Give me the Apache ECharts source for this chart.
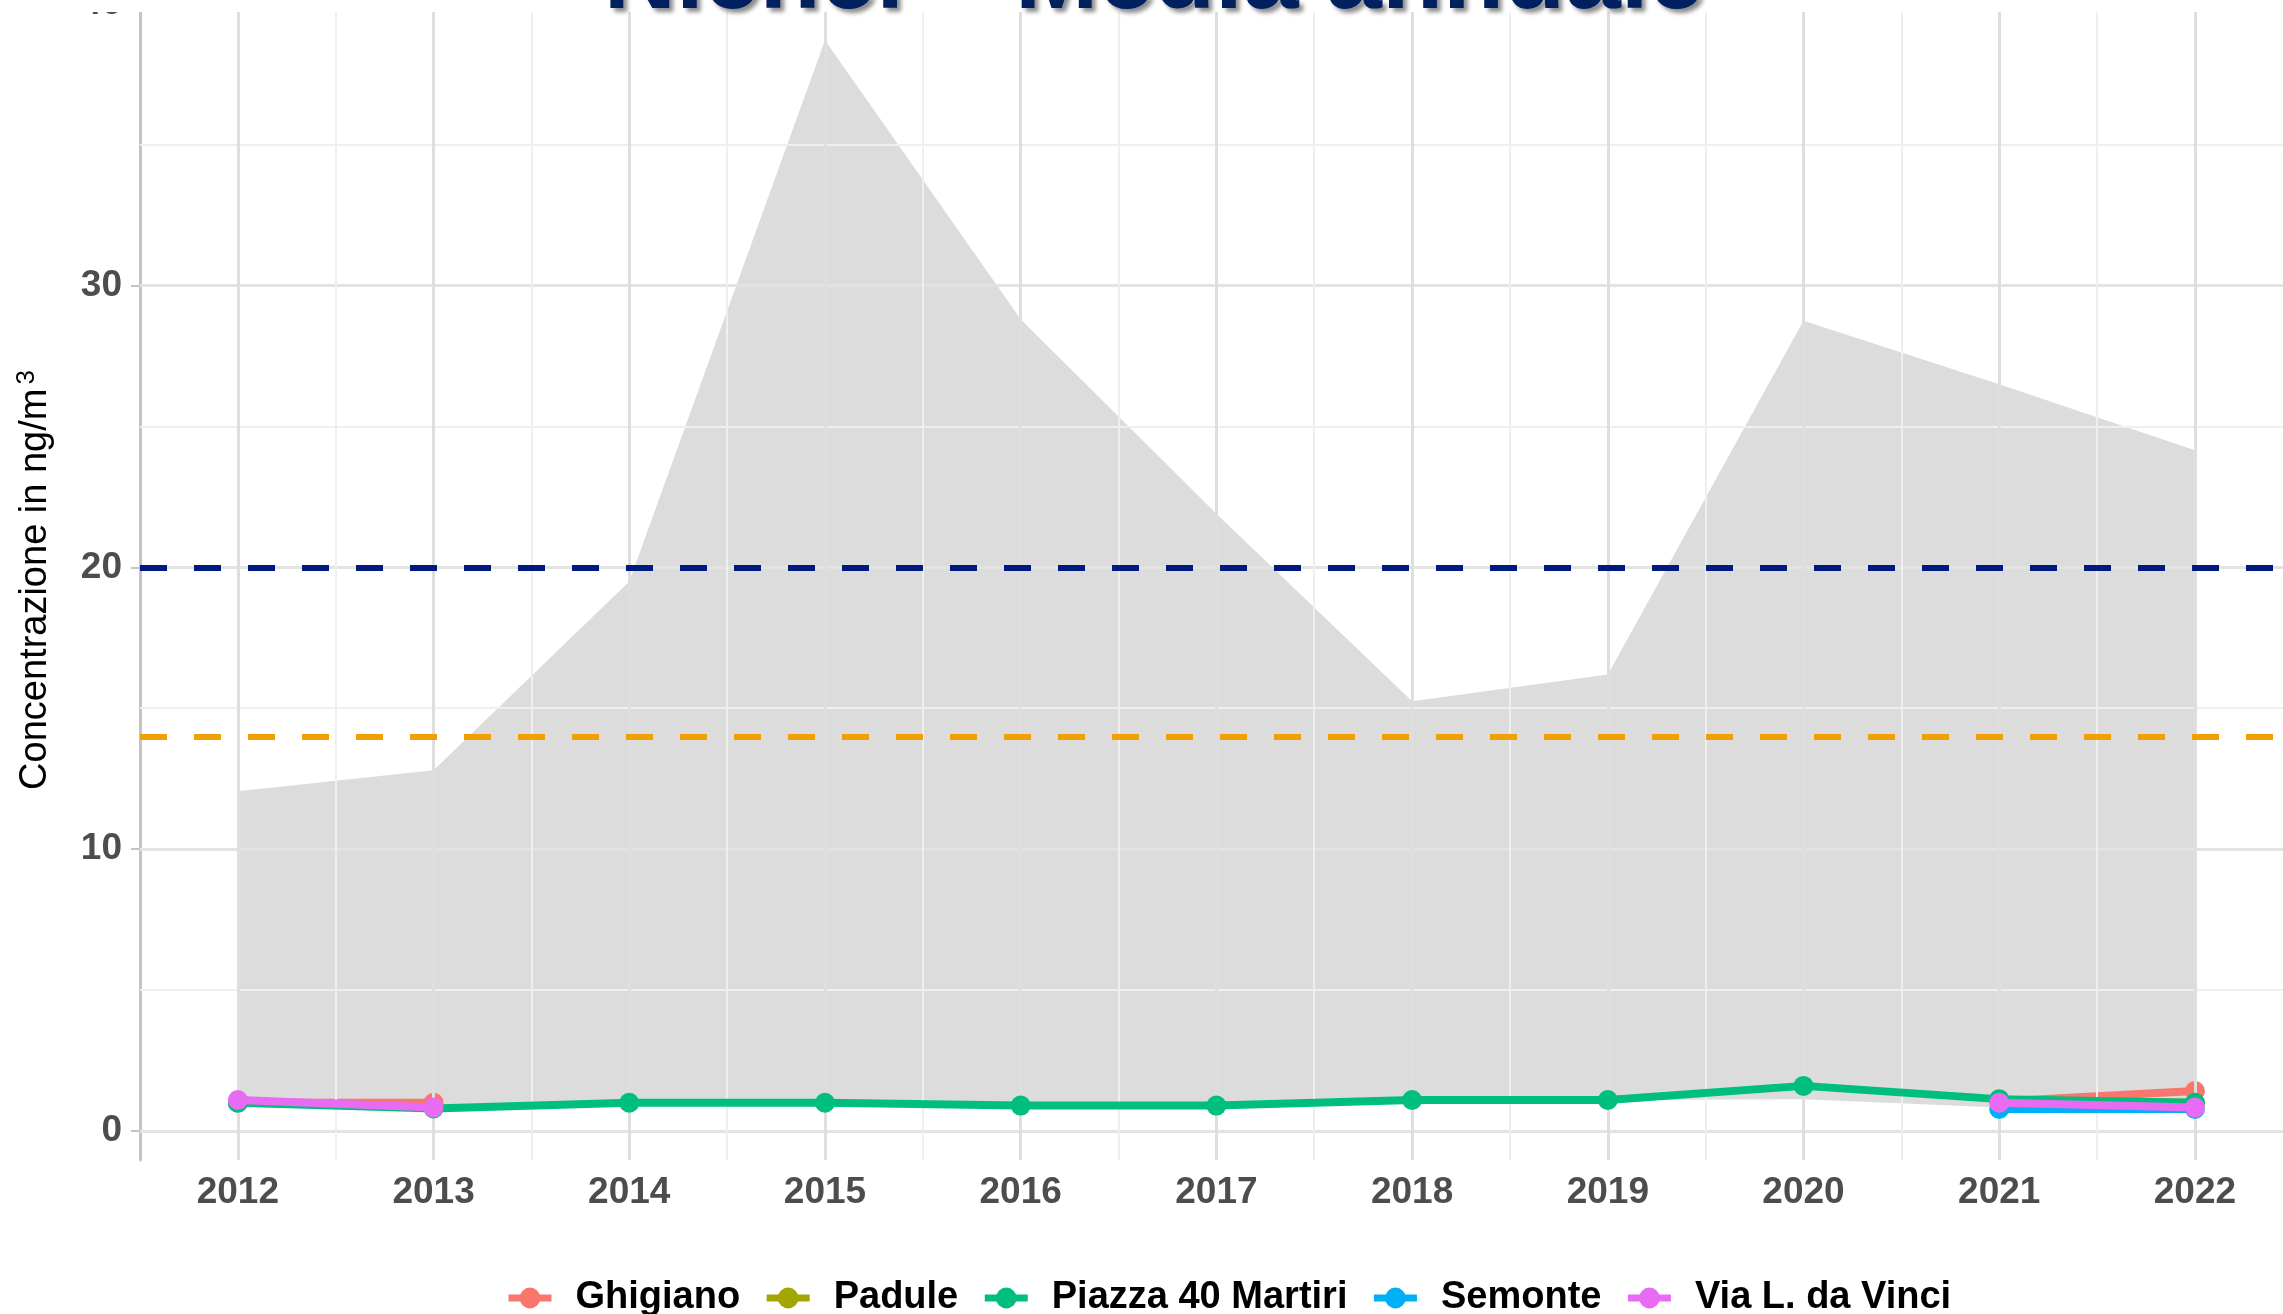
<!DOCTYPE html>
<html>
<head>
<meta charset="utf-8">
<script src="https://cdn.jsdelivr.net/npm/echarts@6/dist/echarts.min.js"></script>
<style>
  html, body { margin: 0; padding: 0; background: #fff; }
  #chart { width: 2283px; height: 1314px; }
</style>
</head>
<body>
<div id="chart"></div>
<script>
// anni e dati (ng/m3), null = nessun dato
var years = [2012, 2013, 2014, 2015, 2016, 2017, 2018, 2019, 2020, 2021, 2022];
var ghigiano = [1.0, 1.0, null, null, null, null, null, null, null, 1.05, 1.42];
var padule = [null, null, null, null, null, null, null, null, null, 1.1, 1.0];
var piazza40 = [1.0, 0.8, 1.0, 1.0, 0.9, 0.9, 1.1, 1.1, 1.6, 1.13, 1.0];
var semonte = [null, null, null, null, null, null, null, null, null, 0.78, 0.78];
var viaVinci = [1.1, 0.83, null, null, null, null, null, null, null, 1.0, 0.83];
// fascia grigia (min / max)
var bandLow = [0.95, 0.8, 1.0, 1.0, 0.9, 0.9, 1.1, 1.1, 1.13, 0.83, 0.75];
var bandHigh = [12.05, 12.8, 19.5, 38.7, 28.8, 21.9, 15.25, 16.2, 28.75, 26.5, 24.15];
// soglie
var limitNavy = 20;
var limitOrange = 14;
var yTicks = [0, 10, 20, 30, 40];
var yMinor = [5, 15, 25, 35];
var xMinor = [2012.5, 2013.5, 2014.5, 2015.5, 2016.5, 2017.5, 2018.5, 2019.5, 2020.5, 2021.5];

var stationNames = ['Ghigiano', 'Padule', 'Piazza 40 Martiri', 'Semonte', 'Via L. da Vinci'];
var stationData = [ghigiano, padule, piazza40, semonte, viaVinci];
var stationColors = ['#F8766D', '#A3A500', '#00BF7D', '#00B0F6', '#E76BF3'];

var FONT = 'Liberation Sans, Arial, sans-serif';

function pairs(arr) {
    var out = [];
    for (var i = 0; i < years.length; i++) {
        out.push([years[i], arr[i] == null ? '-' : arr[i]]);
    }
    return out;
}

var bandData = [];
for (var i = 0; i < years.length; i++) {
    bandData.push([years[i], bandLow[i], bandHigh[i]]);
}

// linee della griglia come markLine
var gridLines = [];
for (var i = 0; i < yTicks.length; i++) {
    gridLines.push({ yAxis: yTicks[i], lineStyle: { color: '#e3e3e3', width: 3, type: 'solid' } });
}
for (var i = 0; i < yMinor.length; i++) {
    gridLines.push({ yAxis: yMinor[i], lineStyle: { color: '#efefef', width: 2, type: 'solid' } });
}
for (var i = 0; i < years.length; i++) {
    gridLines.push({ xAxis: years[i], lineStyle: { color: '#dedede', width: 3, type: 'solid' } });
}
for (var i = 0; i < xMinor.length; i++) {
    gridLines.push({ xAxis: xMinor[i], lineStyle: { color: '#efefef', width: 2, type: 'solid' } });
}

var series = [];
// griglia
series.push({
    name: 'griglia',
    type: 'line',
    data: pairs(bandLow),
    symbol: 'none',
    lineStyle: { opacity: 0 },
    silent: true,
    z: 1,
    markLine: {
        silent: true,
        symbol: ['none', 'none'],
        label: { show: false },
        animation: false,
        data: gridLines
    }
});
// fascia min-max
series.push({
    name: 'fascia',
    type: 'custom',
    data: bandData,
    encode: { x: 0, y: [1, 2] },
    silent: true,
    z: 2,
    renderItem: function (params, api) {
        if (params.dataIndex !== 0) return;
        var pts = [];
        for (var i = 0; i < bandData.length; i++) {
            pts.push(api.coord([bandData[i][0], bandData[i][2]]));
        }
        for (var j = bandData.length - 1; j >= 0; j--) {
            pts.push(api.coord([bandData[j][0], bandData[j][1]]));
        }
        return {
            type: 'polygon',
            shape: { points: pts },
            style: { fill: 'rgba(127,127,127,0.27)' }
        };
    }
});
// soglie
series.push({
    name: 'soglie',
    type: 'line',
    data: pairs(bandLow),
    symbol: 'none',
    lineStyle: { opacity: 0 },
    silent: true,
    z: 3,
    markLine: {
        silent: true,
        symbol: ['none', 'none'],
        label: { show: false },
        animation: false,
        data: [
            { yAxis: limitNavy, lineStyle: { color: '#001A80', width: 6, type: [27, 27] } },
            { yAxis: limitOrange, lineStyle: { color: '#F29F05', width: 6, type: [27, 27] } }
        ]
    }
});
for (var s = 0; s < stationNames.length; s++) {
    series.push({
        name: stationNames[s],
        type: 'line',
        data: pairs(stationData[s]),
        connectNulls: false,
        symbol: 'circle',
        symbolSize: 20,
        showSymbol: true,
        color: stationColors[s],
        lineStyle: { width: 8, color: stationColors[s] },
        itemStyle: { color: stationColors[s] },
        z: 4 + s
    });
}

var myChart = echarts.init(document.getElementById('chart'));
var option = {
    animation: false,
    backgroundColor: '#ffffff',
    grid: { left: 140, right: 0, top: 0, bottom: 154, containLabel: false, outerBoundsMode: 'none' },
    xAxis: {
        type: 'value',
        min: 2011.5,
        max: 2022.45,
        axisLine: { show: true, lineStyle: { color: '#c4c4c4', width: 3 } },
        axisTick: { show: true, length: 9, customValues: years, lineStyle: { color: '#c4c4c4', width: 2 } },
        axisLabel: {
            customValues: years,
            margin: 14,
            color: '#4d4d4d',
            fontFamily: FONT,
            fontWeight: 'bold',
            fontSize: 37,
            formatter: function (v) { return String(v); }
        },
        splitLine: { show: false }
    },
    yAxis: {
        type: 'value',
        min: -1.03,
        max: 40.13,
        name: '{a|Concentrazione in ng/m}{b|3}',
        nameLocation: 'middle',
        nameGap: 82,
        nameRotate: 90,
        nameTextStyle: {
            rich: {
                a: { fontFamily: FONT, fontSize: 38, color: '#000', lineHeight: 44 },
                b: { fontFamily: FONT, fontSize: 26, color: '#000', verticalAlign: 'top', lineHeight: 26, padding: [0, 0, 0, 4] }
            }
        },
        axisLine: { show: true, lineStyle: { color: '#c4c4c4', width: 3 } },
        axisTick: { show: true, length: 9, customValues: yTicks, lineStyle: { color: '#c4c4c4', width: 2 } },
        axisLabel: {
            customValues: yTicks,
            margin: 18,
            color: '#4d4d4d',
            fontFamily: FONT,
            fontWeight: 'bold',
            fontSize: 37
        },
        splitLine: { show: false }
    },
    legend: {
        data: stationNames,
        left: 500,
        top: 1273,
        orient: 'horizontal',
        itemWidth: 43,
        itemHeight: 26,
        itemGap: 23,
        lineStyle: { width: 7 },
        textStyle: {
            fontFamily: FONT,
            fontWeight: 'bold',
            fontSize: 38,
            color: '#000',
            lineHeight: 40,
            padding: [0, 0, 0, 19]
        }
    },
    graphic: [
        {
            type: 'rect',
            left: 0,
            top: 0,
            shape: { width: 2283, height: 12 },
            style: { fill: '#ffffff' },
            z: 100
        },
        {
            type: 'text',
            x: 1154,
            y: -20,
            z: 101,
            style: {
                text: 'Nichel \u2013 Media annuale',
                fill: '#002060',
                font: 'bold 100px ' + FONT,
                align: 'center',
                verticalAlign: 'middle',
                textShadowColor: 'rgba(0,0,0,0.45)',
                textShadowBlur: 4,
                textShadowOffsetX: 4,
                textShadowOffsetY: 4
            }
        }
    ],
    series: series
};
myChart.setOption(option);
</script>
</body>
</html>
